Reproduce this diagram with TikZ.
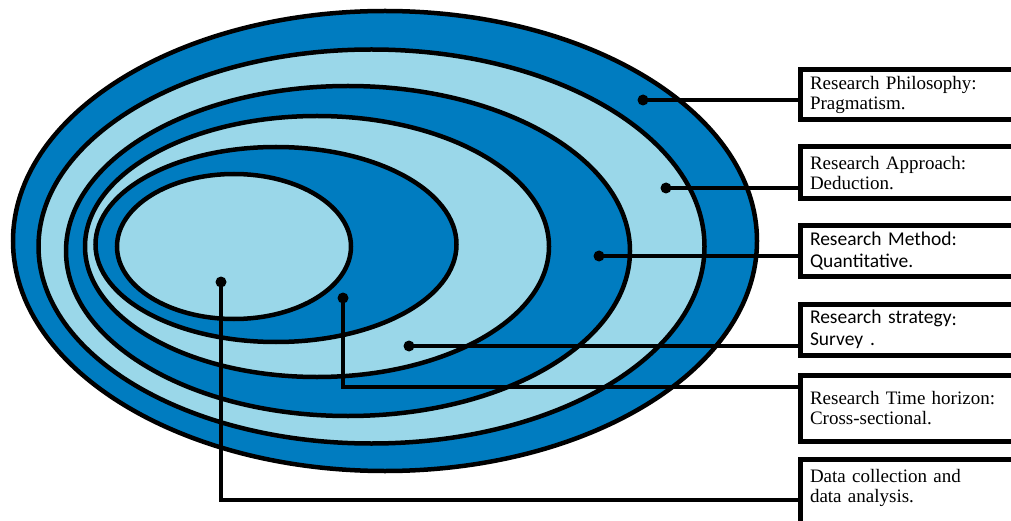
\documentclass[tikz,border=0pt]{standalone}
\usepackage{fontspec}
\setmainfont{Liberation Serif}
\newfontfamily\calib{Carlito}
\definecolor{darkb}{HTML}{007CC0}
\definecolor{lightb}{HTML}{9AD7E9}
\begin{document}
\begin{tikzpicture}[x=1pt,y=-1pt,
  ring/.style={draw=black,line width=4.5pt},
  dotmark/.style={circle,fill=black,inner sep=0pt,minimum size=11pt},
  conn/.style={draw=black,line width=3.5pt},
  labelbox/.style={draw=black,line width=5pt,rectangle,anchor=west,align=left,outer sep=0pt,
    inner xsep=1pt,minimum width=260pt,text width=240pt,font=\fontsize{19}{20}\selectfont},
  calibbox/.style={labelbox,font=\calib\fontsize{19.5}{21.5}\selectfont}]
\useasboundingbox (0,0) rectangle (1011,521);
\fill[white] (0,0) rectangle (1011,521);
% ellipses
\draw[ring,fill=darkb] (385,241) ellipse [x radius=372,y radius=230];
\draw[ring,fill=lightb] (371.5,246.5) ellipse [x radius=333,y radius=197];
\draw[ring,fill=darkb] (348,251) ellipse [x radius=282,y radius=165];
\draw[ring,fill=lightb] (317,246.5) ellipse [x radius=232,y radius=130.5];
\draw[ring,fill=darkb] (276,244.5) ellipse [x radius=180.5,y radius=97.5];
\draw[ring,fill=lightb] (234,246.5) ellipse [x radius=117,y radius=72.5];
% boxes
\node[labelbox,minimum height=50pt] (b1) at (800,95) {Research Philosophy:\\Pragmatism.};
\node[labelbox,minimum height=52pt] (b2) at (800,173) {Research Approach:\\Deduction.};
\node[calibbox,minimum height=50pt] (b3) at (800,251) {Research Method:\\Quantitative.};
\node[calibbox,minimum height=51pt] (b4) at (800,329.5) {Research strategy\raisebox{-2pt}{:}\\Survey\hspace{7pt}.};
\node[labelbox,minimum height=66pt] (b5) at (800,408) {Research Time horizon:\\Cross-sectional.};
\node[labelbox,minimum height=72pt,text depth=38pt] (b6) at (800,495) {Data collection and\\data analysis.};
% dots
\node[dotmark] (d1) at (643,100) {};
\node[dotmark] (d2) at (666,188) {};
\node[dotmark] (d3) at (599,256) {};
\node[dotmark] (d4) at (409,346) {};
\node[dotmark] (d5) at (343,298) {};
\node[dotmark] (d6) at (221,282) {};
% connectors
\draw[conn] (d1.center) -- (d1.center -| b1.west);
\draw[conn] (d2.center) -- (d2.center -| b2.west);
\draw[conn] (d3.center) -- (d3.center -| b3.west);
\draw[conn] (d4.center) -- (d4.center -| b4.west);
\draw[conn] (d5.center) |- ([yshift=21pt]b5.west);
\draw[conn] (d6.center) |- ([yshift=-5pt]b6.west);
\end{tikzpicture}
\end{document}
